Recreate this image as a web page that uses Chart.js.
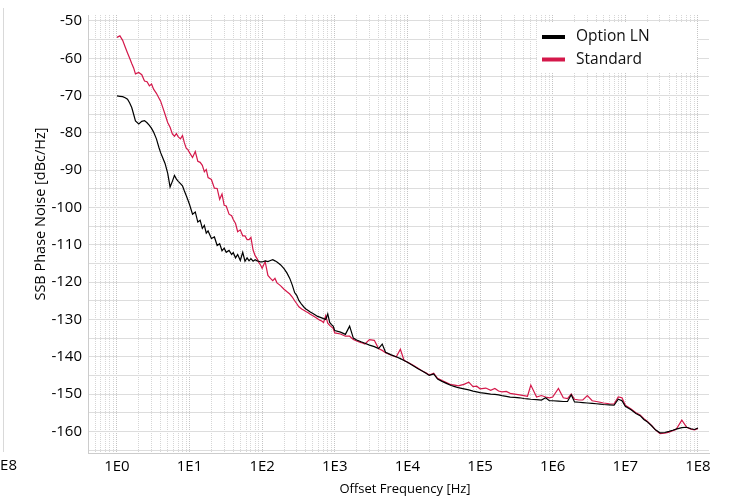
<!DOCTYPE html>
<html><head><meta charset="utf-8">
<script src="https://cdn.jsdelivr.net/npm/chart.js@4.4.1/dist/chart.umd.min.js"></script>
<style>html,body{margin:0;padding:0;background:#fff;overflow:hidden}canvas{display:block}</style>
</head><body>
<canvas id="c" width="731" height="497"></canvas>
<script>
// ---------- data ----------
const freqHz = [
  1,1.1,1.2,1.3,1.4,1.5,1.6,1.7,1.8,2,2.2,2.4,2.6,2.8,3,3.2,3.5,3.8,4,4.3,4.6,5,5.4,5.8,6.2,6.6,7,7.5,8,8.5,9,9.5,
  10,11,12,13,14,15,16,17,18,20,22,24,26,28,30,32,35,38,40,43,46,50,54,58,62,66,70,75,80,85,90,95,
  100,110,120,130,140,150,160,170,180,200,220,240,260,280,300,320,350,380,400,430,460,500,540,580,620,660,700,750,800,850,900,950,
  1e3,1.2e3,1.4e3,1.6e3,1.8e3,2e3,2.3e3,2.6e3,3e3,3.5e3,4e3,4.5e3,5e3,6e3,7e3,8e3,9e3,
  1e4,1.2e4,1.4e4,1.6e4,1.8e4,2e4,2.3e4,2.6e4,3e4,3.5e4,4e4,4.5e4,5e4,6e4,7e4,8e4,9e4,
  1e5,1.2e5,1.4e5,1.6e5,1.8e5,2e5,2.3e5,2.6e5,3e5,3.5e5,4e5,4.5e5,5e5,6e5,7e5,8e5,9e5,
  1e6,1.2e6,1.4e6,1.6e6,1.8e6,2e6,2.3e6,2.6e6,3e6,3.5e6,4e6,4.5e6,5e6,6e6,7e6,8e6,9e6,
  1e7,1.2e7,1.4e7,1.6e7,1.8e7,2e7,2.3e7,2.6e7,3e7,3.5e7,4e7,4.5e7,5e7,6e7,7e7,8e7,9e7,
  1e8
];
const optionLN = [
  -70.1,-70.2,-70.3,-70.6,-71.0,-72.0,-73.2,-75.0,-76.8,-77.6,-76.9,-76.7,-77.3,-78.0,-78.8,-79.8,-81.6,-84.0,-85.3,-86.8,-88.2,-90.8,-94.5,-93.0,-91.4,-92.4,-93.0,-93.6,-94.2,-95.6,-96.8,-98.0,
  -99.2,-101.8,-101.2,-103.9,-103.4,-105.6,-104.8,-106.9,-106.3,-108.3,-107.9,-110.2,-109.7,-111.6,-110.9,-112.0,-111.5,-112.6,-112.1,-113.5,-112.6,-114.2,-112.0,-114.4,-113.5,-114.3,-113.7,-114.4,-114.0,-114.3,-114.4,-114.6,
  -114.6,-114.3,-114.5,-114.2,-114.0,-114.3,-114.6,-115.0,-115.4,-116.4,-117.6,-119.0,-120.8,-122.8,-123.6,-124.9,-126.0,-126.8,-127.2,-127.6,-128.0,-128.4,-128.8,-129.2,-129.4,-129.6,-129.8,-130.0,-128.5,-130.8,-131.4,-131.8,
  -133.0,-133.4,-134.0,-131.8,-135.0,-135.5,-136.0,-136.4,-136.9,-137.3,-137.8,-136.6,-138.8,-139.5,-140.0,-140.5,-141.0,
  -141.5,-142.4,-143.2,-143.8,-144.4,-145.0,-144.6,-146.0,-146.6,-147.2,-147.7,-148.0,-148.3,-148.6,-148.9,-149.2,-149.4,
  -149.6,-149.8,-150.0,-150.1,-150.2,-150.4,-150.6,-150.8,-150.9,-151.0,-151.2,-151.3,-151.4,-151.5,-151.6,-151.0,-151.8,
  -151.8,-151.9,-152.0,-152.0,-150.2,-152.1,-152.2,-152.3,-152.4,-152.5,-152.6,-152.7,-152.8,-152.9,-153.0,-151.4,-151.8,
  -153.3,-154.2,-155.2,-155.8,-156.8,-157.4,-158.5,-159.6,-160.4,-160.3,-160.0,-159.7,-159.4,-159.0,-158.9,-159.3,-159.5,
  -159.1
];
const standard = [
  -54.4,-54.0,-55.2,-57.0,-58.6,-60.0,-61.4,-62.6,-64.2,-63.8,-64.4,-66.1,-66.3,-67.4,-66.9,-68.3,-69.4,-70.7,-71.5,-73.3,-75.0,-77.2,-78.5,-80.3,-80.9,-80.2,-81.1,-81.6,-80.7,-82.7,-84.1,-84.5,
  -85.3,-86.6,-85.0,-87.6,-87.9,-88.7,-90.4,-89.8,-92.0,-92.5,-94.8,-94.9,-97.8,-96.4,-99.4,-99.6,-101.8,-102.2,-103.2,-104.3,-106.5,-106.0,-107.6,-107.6,-108.6,-108.6,-108.0,-111.4,-112.9,-113.7,-114.8,-115.4,
  -116.3,-114.5,-118.2,-119.0,-119.6,-119.0,-120.2,-120.6,-121.0,-121.9,-122.6,-123.2,-124.0,-125.0,-125.8,-126.6,-127.2,-127.6,-127.9,-128.2,-128.6,-129.0,-129.4,-129.8,-130.2,-130.4,-130.8,-129.0,-131.0,-131.6,-132.0,-132.4,
  -133.6,-133.9,-134.5,-134.5,-135.4,-135.8,-136.2,-136.6,-135.4,-135.6,-137.8,-138.3,-138.9,-139.6,-140.1,-138.0,-141.0,
  -141.4,-142.3,-143.1,-143.8,-144.3,-144.9,-144.4,-145.8,-146.4,-147.0,-147.5,-147.6,-147.8,-147.4,-146.8,-148.0,-147.9,
  -148.6,-148.4,-149.0,-148.5,-149.2,-149.4,-149.3,-149.8,-150.0,-150.2,-150.4,-150.6,-147.6,-150.8,-150.4,-150.8,-151.0,
  -150.8,-148.5,-151.0,-151.2,-150.0,-151.4,-151.6,-151.6,-150.4,-151.8,-152.0,-152.2,-152.4,-152.6,-152.7,-150.8,-151.0,
  -153.0,-154.0,-155.0,-155.6,-156.6,-157.3,-158.4,-159.6,-160.6,-160.5,-160.2,-159.8,-159.5,-157.0,-158.9,-159.4,-159.6,
  -159.2
];
const seriesNames = ['Option LN', 'Standard'];
const seriesColors = ['#000000', '#d4184a'];
const xTickLabels = ['1E0','1E1','1E2','1E3','1E4','1E5','1E6','1E7','1E8'];
const yTickLabels = ['-50','-60','-70','-80','-90','-100','-110','-120','-130','-140','-150','-160'];
const xTitle = 'Offset Frequency [Hz]';
const yTitle = 'SSB Phase Noise [dBc/Hz]';

// ---------- chart ----------
const FONT = "'Open Sans', 'Noto Sans', sans-serif";
const toXY = (vals) => freqHz.map((f, i) => ({ x: f, y: vals[i] }));

const overlay = {
  id: 'overlay',
  afterDraw(chart) {
    const ctx = chart.ctx;
    ctx.save();
    ctx.fillStyle = '#000';
    ctx.textAlign = 'center';
    ctx.textBaseline = 'middle';
    ctx.font = '13px ' + FONT;
    ctx.fillText(xTitle, 405, 489);
    ctx.save();
    ctx.translate(41, 214);
    ctx.rotate(-Math.PI / 2);
    ctx.font = '14.5px ' + FONT;
    ctx.fillText(yTitle, 0, 0);
    ctx.restore();

    // legend inside the plot, top right
    ctx.fillStyle = '#ffffff';
    ctx.fillRect(537, 23, 160, 50);
    chart.data.datasets.forEach((ds, i) => {
      const y = 37 + i * 22.5;
      ctx.strokeStyle = ds.borderColor;
      ctx.lineWidth = 4;
      ctx.beginPath();
      ctx.moveTo(542, y);
      ctx.lineTo(565, y);
      ctx.stroke();
      ctx.fillStyle = '#111';
      ctx.textAlign = 'left';
      ctx.font = '15.5px ' + FONT;
      ctx.fillText(ds.label, 576, y);
    });

    // fragment of a neighbouring chart at the far left edge
    ctx.strokeStyle = '#d9d9d9';
    ctx.lineWidth = 1;
    ctx.beginPath();
    ctx.moveTo(3.5, 8);
    ctx.lineTo(3.5, 452);
    ctx.stroke();
    ctx.fillStyle = '#000';
    ctx.textAlign = 'right';
    ctx.font = '15px ' + FONT;
    ctx.fillText(xTickLabels[xTickLabels.length - 1], 17, 466);
    ctx.restore();
  }
};

new Chart(document.getElementById('c'), {
  type: 'line',
  data: {
    datasets: [
      { label: seriesNames[0], data: toXY(optionLN), borderColor: seriesColors[0], borderWidth: 1.2, pointRadius: 0, tension: 0, fill: false },
      { label: seriesNames[1], data: toXY(standard), borderColor: seriesColors[1], borderWidth: 1.2, pointRadius: 0, tension: 0, fill: false }
    ]
  },
  options: {
    responsive: false,
    animation: false,
    devicePixelRatio: 1,
    layout: { padding: { top: 10, right: 22, left: 0, bottom: 0 } },
    plugins: { legend: { display: false }, tooltip: { enabled: false } },
    scales: {
      x: {
        type: 'logarithmic',
        min: 0.4,
        max: 1.42e8,
        afterBuildTicks(scale) {
          const t = [];
          for (let m = 4; m <= 9; m++) t.push({ value: m / 10 });
          for (let e = 0; e <= 8; e++) {
            for (let m = 1; m <= 9; m++) {
              const v = m * Math.pow(10, e);
              if (v <= scale.max) t.push({ value: v });
            }
          }
          scale.ticks = t;
        },
        afterFit(scale) { scale.height = 44; },
        ticks: {
          autoSkip: false,
          maxRotation: 0,
          minRotation: 0,
          padding: 5,
          color: '#000',
          font: { family: FONT, size: 15 },
          callback(value) {
            const e = Math.log10(value);
            if (Math.abs(e - Math.round(e)) < 1e-9 && e >= 0) return xTickLabels[Math.round(e)];
            return '';
          }
        },
        grid: {
          color: (c) => {
            const v = c.tick ? c.tick.value : 0;
            const e = Math.log10(v);
            return Math.abs(e - Math.round(e)) < 1e-9 ? '#c4c4c4' : '#d6d6d6';
          },
          lineWidth: 1,
          drawTicks: false
        },
        border: { display: true, color: '#cccccc', dash: [1, 1] }
      },
      y: {
        type: 'linear',
        min: -165.8,
        max: -48.41,
        afterBuildTicks(scale) {
          const t = [];
          for (let v = -165; v <= -50; v += 5) t.push({ value: v });
          scale.ticks = t;
        },
        afterFit(scale) { scale.width = 88; },
        ticks: {
          autoSkip: false,
          padding: 6,
          color: '#000',
          font: { family: FONT, size: 15 },
          callback(value) {
            if (value % 10 === 0) return yTickLabels[(-50 - value) / 10];
            return '';
          }
        },
        grid: { color: '#dddddd', lineWidth: 1, drawTicks: false },
        border: { display: true, color: '#cccccc' }
      }
    }
  },
  plugins: [overlay]
});
</script>
</body></html>
